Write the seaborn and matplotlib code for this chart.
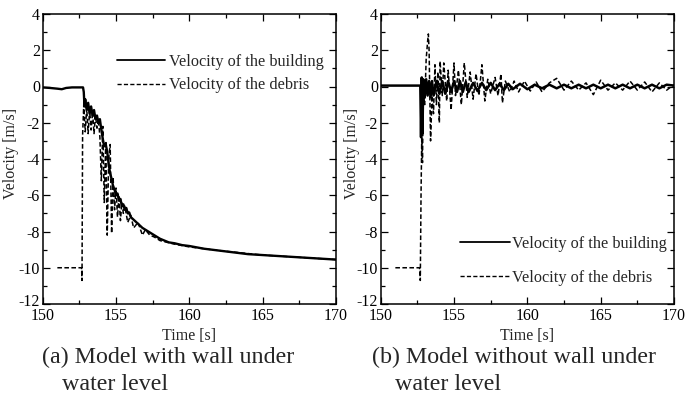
import matplotlib
matplotlib.use("Agg")
import matplotlib.pyplot as plt
import matplotlib.transforms as mtransforms
from matplotlib.lines import Line2D
from matplotlib.ticker import MultipleLocator
import seaborn as sns

# (a) model with wall under water level
ta_bld = [150.0, 150.5, 151.0, 151.3, 151.6, 152.0, 152.4, 152.75, 152.8, 152.85,
          152.9, 153.0, 153.1, 153.2, 153.3, 153.4, 153.5, 153.6, 153.7, 153.8,
          153.9, 154.0, 154.1, 154.2, 154.3, 154.4, 154.5, 154.6, 154.7, 154.8,
          154.9, 155.0, 155.1, 155.2, 155.3, 155.4, 155.5, 155.6, 155.7, 155.8,
          155.9, 156.0, 156.2, 156.4, 156.6, 156.8, 157.0, 157.2, 157.4, 157.6,
          157.8, 158.0, 158.3, 158.6, 159.0, 159.5, 160.0, 161.0, 162.0, 163.0,
          164.0, 165.0, 166.0, 167.0, 168.0, 169.0, 170.0]
va_bld = [-0.05, -0.08, -0.12, -0.15, -0.08, -0.05, -0.05, -0.05, -0.3, -1.1,
          -0.7, -1.3, -0.9, -1.5, -1.1, -1.6, -1.3, -1.8, -1.6, -2.0,
          -1.8, -2.4, -2.9, -3.3, -3.2, -3.6, -4.3, -4.8, -5.1, -5.5,
          -5.7, -6.0, -5.9, -6.3, -6.2, -6.6, -6.5, -6.8, -6.7, -7.0,
          -6.95, -7.2, -7.35, -7.5, -7.65, -7.8, -7.9, -8.0, -8.1, -8.2,
          -8.3, -8.4, -8.5, -8.6, -8.65, -8.75, -8.8, -8.95, -9.05, -9.15,
          -9.25, -9.3, -9.35, -9.4, -9.45, -9.5, -9.55]

ta_deb = [151.0, 152.65, 152.68, 152.72, 152.8, 152.9, 153.0, 153.1, 153.2, 153.3,
          153.4, 153.5, 153.6, 153.7, 153.8, 153.9, 154.0, 154.1, 154.2, 154.3,
          154.4, 154.5, 154.6, 154.7, 154.8, 154.9, 155.0, 155.1, 155.2, 155.3,
          155.4, 155.5, 155.6, 155.8, 156.0, 156.2, 156.5, 156.8, 157.0, 157.3,
          157.6, 158.0, 158.5, 159.0, 160.0, 162.0, 165.0, 170.0]
va_deb = [-10.0, -10.0, -10.7, -2.7, -1.0, -2.5, -1.2, -2.6, -1.3, -2.4,
          -1.4, -2.6, -1.6, -2.3, -1.8, -2.8, -5.2, -2.2, -6.4, -3.0,
          -8.2, -4.0, -3.2, -8.1, -5.0, -6.8, -5.6, -7.2, -6.0, -7.4,
          -6.4, -7.0, -6.6, -7.5, -7.1, -7.8, -7.5, -8.2, -7.9, -8.2,
          -8.3, -8.5, -8.6, -8.7, -8.85, -9.05, -9.3, -9.55]

# (b) model without wall under water level
tb_bld = [150.0, 152.7, 152.75, 152.8, 152.85, 152.9, 153.0, 153.1, 153.2, 153.3,
          153.4, 153.5, 153.6, 153.8, 154.0, 154.2, 154.4, 154.6, 154.8, 155.0,
          155.2, 155.4, 155.6, 155.8, 156.0, 156.3, 156.6, 156.9, 157.2, 157.5,
          157.8, 158.1, 158.4, 158.7, 159.0, 159.5, 160.0, 160.5, 161.0, 161.5,
          162.0, 162.5, 163.0, 163.5, 164.0, 164.5, 165.0, 165.5, 166.0, 166.5,
          167.0, 167.5, 168.0, 168.5, 169.0, 169.5, 170.0]
vb_bld = [0.05, 0.05, -2.8, 0.5, -2.6, 0.4, -0.6, 0.4, -0.5, 0.3,
          -0.6, 0.3, -0.5, 0.3, -0.4, 0.3, -0.4, 0.3, -0.3, 0.3,
          -0.3, 0.3, -0.3, 0.25, -0.3, 0.2, -0.25, 0.2, -0.2, 0.2,
          -0.2, 0.15, -0.2, 0.15, -0.15, 0.15, -0.15, 0.1, -0.1, 0.1,
          -0.1, 0.1, -0.1, 0.1, -0.1, 0.1, -0.1, 0.1, -0.1, 0.1,
          -0.1, 0.1, -0.1, 0.1, -0.1, 0.1, 0.05]

tb_deb = [151.0, 152.65, 152.7, 152.75, 152.8, 152.85, 152.9, 153.0, 153.1, 153.2,
          153.25, 153.3, 153.4, 153.5, 153.6, 153.7, 153.8, 153.9, 154.0, 154.05,
          154.2, 154.3, 154.5, 154.6, 154.8, 155.0, 155.1, 155.3, 155.5, 155.7,
          155.9, 156.1, 156.3, 156.5, 156.7, 156.9, 157.1, 157.3, 157.5, 157.8,
          158.0, 158.2, 158.3, 158.5, 158.8, 159.1, 159.4, 159.8, 160.2, 160.6,
          161.0, 161.5, 162.0, 162.5, 163.0, 163.5, 164.0, 164.5, 165.0, 165.5,
          166.0, 166.5, 167.0, 167.5, 168.0, 168.5, 169.0, 169.5, 170.0]
vb_deb = [-10.0, -10.0, -10.7, -6.0, -2.8, -4.2, -0.3, -1.0, 1.5, 2.5,
          2.9, 2.0, -3.0, -0.5, -1.5, 1.2, -1.0, 0.8, -2.0, 1.4,
          -0.5, 1.3, -0.8, 0.9, -1.3, 1.3, -0.5, 0.9, -1.0, 1.3,
          -0.6, 0.8, -0.7, 0.7, -0.5, 1.2, -0.8, 0.4, -0.4, 0.5,
          -0.5, 0.7, -0.9, 0.3, -0.3, 0.3, -0.3, 0.3, -0.25, 0.25,
          -0.3, 0.2, 0.45, -0.2, 0.3, -0.2, 0.2, -0.45, 0.35, -0.2,
          0.2, -0.2, 0.3, -0.2, 0.25, -0.3, 0.2, -0.2, 0.1]

labels = ["Velocity of the building", "Velocity of the debris"]
captions = [["(a) Model with wall under", "water level"],
            ["(b) Model without wall under", "water level"]]

sns.set_style("ticks")
plt.rcParams['font.family'] = ['Liberation Serif', 'DejaVu Serif']
plt.rcParams['axes.unicode_minus'] = False

W, H = 686, 407
fig = plt.figure(figsize=(W / 100, H / 100), dpi=100)
ax1 = fig.add_axes([42.7 / W, 1 - 304 / H, 293.3 / W, 290 / H])
ax2 = fig.add_axes([380.7 / W, 1 - 304 / H, 293.3 / W, 290 / H])

DASH = (3, 1.6)

sns.lineplot(x=ta_bld, y=va_bld, ax=ax1, color="black", lw=1.7,
             estimator=None, sort=False)
sns.lineplot(x=ta_deb, y=va_deb, ax=ax1, color="black", lw=1.1,
             estimator=None, sort=False).lines[-1].set_dashes(DASH)
sns.lineplot(x=tb_bld, y=vb_bld, ax=ax2, color="black", lw=1.8,
             estimator=None, sort=False)
sns.lineplot(x=tb_deb, y=vb_deb, ax=ax2, color="black", lw=1.1,
             estimator=None, sort=False).lines[-1].set_dashes(DASH)

lift = mtransforms.ScaledTranslation(0, 4 / 100, fig.dpi_scale_trans)
for ax, xlab in ((ax1, -0.082), (ax2, -0.07)):
    ax.set_xlim(150, 170)
    ax.set_ylim(-12, 4)
    ax.xaxis.set_major_locator(MultipleLocator(5))
    ax.xaxis.set_minor_locator(MultipleLocator(2.5))
    ax.yaxis.set_major_locator(MultipleLocator(2))
    ax.yaxis.set_minor_locator(MultipleLocator(1))
    ax.tick_params(which="both", direction="in", top=True, right=True,
                   labelsize=11.5, width=0.9, color="black", labelcolor="black")
    ax.tick_params(which="major", length=5)
    ax.tick_params(axis="x", which="major", pad=3)
    ax.tick_params(axis="y", which="major", pad=2)
    ax.tick_params(which="minor", length=3)
    for s in ax.spines.values():
        s.set_linewidth(1.1)
        s.set_color("black")
    ax.set_xlabel("Time [s]", fontsize=11.5, labelpad=3)
    ax.set_ylabel("Velocity [m/s]", fontsize=11.5)
    ax.yaxis.set_label_coords(xlab, 0.52)
    # the -12 label sits a little above its tick, clear of the 150 label
    fig.canvas.draw()
    for lbl in ax.get_yticklabels():
        if lbl.get_text() == "-12":
            lbl.set_transform(lbl.get_transform() + lift)

handles = [Line2D([], [], color="black", lw=1.3),
           Line2D([], [], color="black", lw=1.0, dashes=DASH)]
ax1.legend(handles, labels, loc="upper left", bbox_to_anchor=(0.255, 0.862),
           frameon=False, fontsize=11.7, handlelength=2.9, handletextpad=0.3,
           labelspacing=0.45, borderpad=0, borderaxespad=0)
ax2.legend(handles, labels, loc="upper left", bbox_to_anchor=(0.27, 0.235),
           frameon=False, fontsize=11.7, handlelength=3.1, handletextpad=0.1,
           labelspacing=1.1, borderpad=0, borderaxespad=0)

fig.text(42 / W, 1 - 357 / H, captions[0][0], fontsize=17.3, va="center", ha="left")
fig.text(62 / W, 1 - 385 / H, captions[0][1], fontsize=17.3, va="center", ha="left")
fig.text(372 / W, 1 - 357 / H, captions[1][0], fontsize=17.3, va="center", ha="left")
fig.text(395 / W, 1 - 385 / H, captions[1][1], fontsize=17.3, va="center", ha="left")

fig.savefig("out.png", dpi=100, facecolor="white")
